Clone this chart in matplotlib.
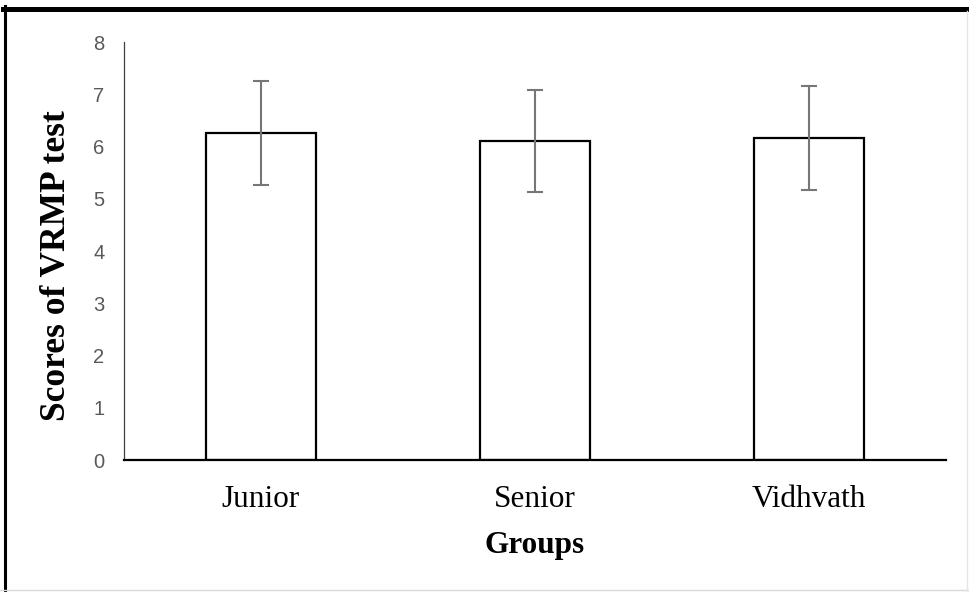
import matplotlib
matplotlib.use("Agg")
import matplotlib.pyplot as plt
from matplotlib.lines import Line2D
import numpy as np

groups = ["Junior", "Senior", "Vidhvath"]
scores = [6.26, 6.11, 6.16]
errors = [1.0, 0.98, 0.99]
y_ticks = [0, 1, 2, 3, 4, 5, 6, 7, 8]

fig = plt.figure(figsize=(9.69, 5.92), dpi=100)
ax = fig.add_axes([124 / 969, 132 / 592, 822 / 969, 418 / 592])

x = np.arange(len(groups))
ax.bar(x, scores, width=0.405, color="white", edgecolor="black", linewidth=1.6, zorder=2)
ax.errorbar(x, scores, yerr=errors, fmt="none", ecolor="#767676",
            elinewidth=1.5, capsize=5.5, capthick=1.5, zorder=3)

ax.set_xlim(-0.5, len(groups) - 0.5)
ax.set_ylim(0, 8)
ax.set_yticks(y_ticks)
ax.set_yticklabels([str(t) for t in y_ticks], fontfamily="Liberation Sans",
                   fontsize=14.5, color="#595959")
ax.set_xticks(x)
ax.set_xticklabels(groups, fontfamily="Liberation Serif", fontsize=22.5)
ax.tick_params(axis="y", length=0, pad=14)
ax.tick_params(axis="x", length=0, pad=18)

for side in ["top", "right"]:
    ax.spines[side].set_visible(False)
ax.spines["left"].set_color("#404040")
ax.spines["left"].set_linewidth(0.9)
ax.spines["bottom"].set_color("black")
ax.spines["bottom"].set_linewidth(1.6)

ax.set_xlabel("Groups", fontfamily="Liberation Serif", fontweight="bold",
              fontsize=22.5)
ax.xaxis.set_label_coords(0.5, -(545 - 460) / 418, transform=ax.transAxes)
ax.xaxis.label.set_va("center")
ax.set_ylabel("Scores of VRMP test", fontfamily="Liberation Serif",
              fontweight="bold", fontsize=25.5)
ax.yaxis.set_label_coords(-(124 - 57) / 822, (460 - 266) / 418, transform=ax.transAxes)
ax.yaxis.label.set_va("center")

# outer frame as in the source image
fig.add_artist(Line2D([3 / 969, 1], [1 - 8.5 / 592, 1 - 8.5 / 592],
                      transform=fig.transFigure, color="black", linewidth=3.6))
fig.add_artist(Line2D([4.5 / 969, 4.5 / 969], [0, 1 - 6 / 592],
                      transform=fig.transFigure, color="black", linewidth=2.2))
fig.add_artist(Line2D([0, 1], [2.5 / 592, 2.5 / 592],
                      transform=fig.transFigure, color="#d9d9d9", linewidth=1))
fig.add_artist(Line2D([967 / 969, 967 / 969], [0, 1 - 11 / 592],
                      transform=fig.transFigure, color="#e6e6e6", linewidth=1))

fig.savefig("out.png", dpi=100)
